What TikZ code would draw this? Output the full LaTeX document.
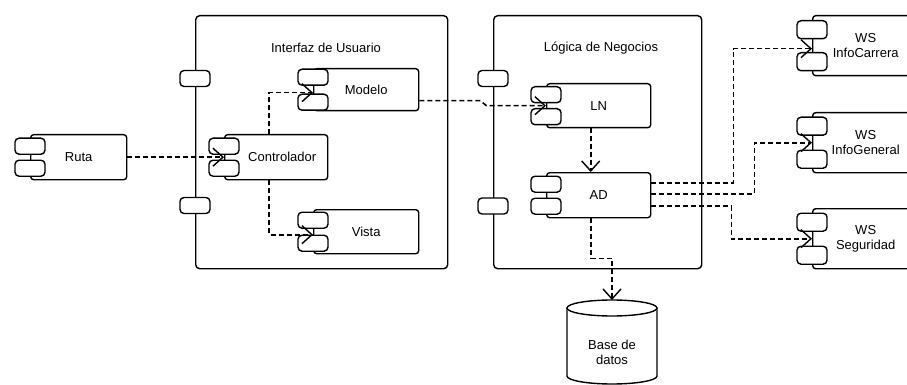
\documentclass[tikz,border=0pt]{standalone}
\usepackage{fontspec}
\setmainfont{Liberation Sans}
\usetikzlibrary{arrows.meta,positioning}
\begin{document}
\begin{tikzpicture}[x=1pt,y=-1pt,
  every node/.style={font=\fontsize{13pt}{15pt}\selectfont},
  cont/.style={draw, line width=1.4pt, rounded corners=4pt, anchor=north west, inner sep=0pt},
  body/.style={draw, line width=1.4pt, rounded corners=3pt, fill=white, anchor=north west, inner sep=0pt, align=center},
  port/.style={draw, line width=1.4pt, rounded corners=4pt, fill=white, minimum width=30pt, minimum height=16pt, inner sep=0pt},
  wsport/.style={port, minimum height=18pt},
  dep/.style={draw, line width=1.6pt, dash pattern=on 5pt off 3pt, -{Straight Barb[length=10pt,width=18pt,line width=1.4pt]}},
  ttl/.style={inner sep=0pt}
]
\useasboundingbox (0,0) rectangle (907,385);
\clip (0,0) rectangle (907,385);

% containers
\node[cont, minimum width=252pt, minimum height=253pt] (ui) at (195,15) {};
\node[ttl] (uititle) at (326,48) {Interfaz de Usuario};
\node[port] (uip1) at (ui.west |- 0,78.5) {};
\node[port] (uip2) at (ui.west |- 0,205.5) {};

\node[cont, minimum width=208pt, minimum height=253pt] (ln-cont) at (493,15) {};
\node[ttl] (lntitle) at (601,48) {Lógica de Negocios};
\node[port] (lcp1) at (ln-cont.west |- 0,78.5) {};
\node[port] (lcp2) at (ln-cont.west |- 0,206) {};

% components
\node[body, minimum width=96pt, minimum height=45pt] (ruta) at (30,134) {Ruta};
\node[port] (rutap1) at ([yshift=11pt]ruta.west) {};
\node[port] (rutap2) at ([yshift=-11pt]ruta.west) {};

\node[body, minimum width=105pt, minimum height=42pt] (modelo) at (313,68) {Modelo};
\node[port] (modelop1) at ([yshift=12.5pt]modelo.west) {};
\node[port] (modelop2) at ([yshift=-12.5pt]modelo.west) {};

\node[body, minimum width=103pt, minimum height=45pt] (ctrl) at (224,134) {\hspace*{12pt}Controlador};
\node[port] (ctrlp1) at ([yshift=11pt]ctrl.west) {};
\node[port] (ctrlp2) at ([yshift=-11pt]ctrl.west) {};

\node[body, minimum width=105pt, minimum height=44pt] (vista) at (313,209) {Vista};
\node[port] (vistap1) at ([yshift=11.5pt]vista.west) {};
\node[port] (vistap2) at ([yshift=-11.5pt]vista.west) {};

\node[body, minimum width=104pt, minimum height=44pt] (ln) at (546,83) {LN};
\node[port] (lnp1) at ([yshift=11pt]ln.west) {};
\node[port] (lnp2) at ([yshift=-11pt]ln.west) {};

\node[body, minimum width=104pt, minimum height=45pt] (ad) at (546,172) {AD};
\node[port] (adp1) at ([yshift=11pt]ad.west) {};
\node[port] (adp2) at ([yshift=-11pt]ad.west) {};

\node[body, minimum width=106pt, minimum height=60pt] (ws1) at (812,15) {WS\\InfoCarrera};
\node[wsport] (ws1p1) at ([yshift=16pt]ws1.west) {};
\node[wsport] (ws1p2) at ([yshift=-16pt]ws1.west) {};

\node[body, minimum width=106pt, minimum height=60pt] (ws2) at (812,112) {WS\\InfoGeneral};
\node[wsport] (ws2p1) at ([yshift=16.5pt]ws2.west) {};
\node[wsport] (ws2p2) at ([yshift=-16.5pt]ws2.west) {};

\node[body, minimum width=106pt, minimum height=60pt] (ws3) at (812,208) {WS\\Seguridad};
\node[wsport] (ws3p1) at ([yshift=16.5pt]ws3.west) {};
\node[wsport] (ws3p2) at ([yshift=-16.5pt]ws3.west) {};

% database
\coordinate (dbtop) at (612,300);
\draw[line width=1.4pt, fill=white] (567,308) -- (567,376)
  arc[start angle=180, end angle=0, x radius=45, y radius=8] -- (657,308);
\draw[line width=1.4pt, fill=white] (612,308) ellipse [x radius=45, y radius=8];
\node[align=center, inner sep=0pt] (db) at (612,352) {Base de\\datos};

% connectors
\draw[dep] (ruta.east) -- (ctrl.west);
\draw[dep] ([xshift=-7pt]ctrl.north) |- ([yshift=-3pt]modelo.west);
\draw[dep] ([xshift=-7pt]ctrl.south) |- ([yshift=-3pt]vista.west);
\draw[dep] ([yshift=-11pt]modelo.east) -- ++(61,0) -- ++(6,5) -- (ln.west);
\draw[dep] ([xshift=-8pt]ln.south) -- ([xshift=-8pt]ad.north);
\draw[dep] ([xshift=-8pt]ad.south) -- ++(0,40) -| (dbtop);
\draw[dep] ([yshift=12pt]ad.east) -- ++(82,0) |- ([yshift=-3pt]ws1.west);
\draw[dep] ([yshift=1.5pt]ad.east) -- ++(103,0) |- (ws2.west);
\draw[dep] ([yshift=-10.5pt]ad.east) -- ++(80,0) |- (ws3.west);
\end{tikzpicture}
\end{document}
